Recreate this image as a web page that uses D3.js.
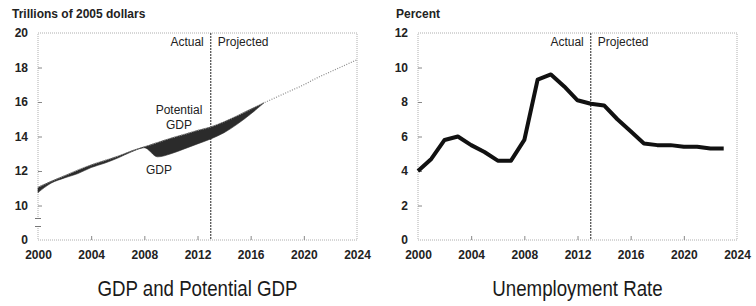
<!DOCTYPE html>
<html>
<head>
<meta charset="utf-8">
<script src="https://cdn.jsdelivr.net/npm/d3@7"></script>
<style>
    body { margin: 0; background: #fff; }
    svg { display: block; }
    .tick text { font-family: "Liberation Sans", Arial, sans-serif; font-size: 12px; font-weight: bold; fill: #222; }
    .tick line { stroke: #888; }
    .unit { font-family: "Liberation Sans", Arial, sans-serif; font-size: 12px; font-weight: bold; fill: #222; }
    .note { font-family: "Liberation Sans", Arial, sans-serif; font-size: 12px; fill: #222; }
    .title { font-family: "Liberation Sans", Arial, sans-serif; font-size: 22px; fill: #1a1a1a; }
</style>
</head>
<body>
<svg id="chart" width="756" height="306"></svg>
<script>
// GDP panel (trillions of 2005 dollars)
const gdpYears = [2000, 2001, 2002, 2003, 2004, 2005, 2006, 2007, 2008, 2009, 2010, 2011, 2012,
    2013, 2014, 2015, 2016, 2017, 2018, 2019, 2020, 2021, 2022, 2023, 2024];
const potentialGdp = [11.05, 11.4, 11.72, 12.05, 12.35, 12.6, 12.85, 13.15, 13.4, 13.65, 13.9, 14.12, 14.35,
    14.55, 14.85, 15.2, 15.58, 15.95, 16.3, 16.65, 17.0, 17.4, 17.75, 18.1, 18.45];
const actualGdp = [10.75, 11.3, 11.6, 11.85, 12.2, 12.45, 12.75, 13.1, 13.35, 12.82, 13.0, 13.28, 13.57,
    13.86, 14.22, 14.72, 15.3, 15.95];
const gdpTicks = [0, 10, 12, 14, 16, 18, 20];

// Unemployment panel (percent)
const rateYears = [2000, 2001, 2002, 2003, 2004, 2005, 2006, 2007, 2008, 2009, 2010, 2011, 2012,
    2013, 2014, 2015, 2016, 2017, 2018, 2019, 2020, 2021, 2022, 2023];
const unemployment = [4.0, 4.7, 5.8, 6.0, 5.5, 5.1, 4.6, 4.6, 5.8, 9.3, 9.6, 8.9, 8.1,
    7.9, 7.8, 7.0, 6.3, 5.6, 5.5, 5.5, 5.4, 5.4, 5.3, 5.3];
const rateTicks = [0, 2, 4, 6, 8, 10, 12];

const yearTicks = [2000, 2004, 2008, 2012, 2016, 2020, 2024];
const splitYear = 2013;

let svg = d3.select("#chart");
let width = 319, height = 207;

function drawPanel(left, opts) {
    let g = svg.append("g")
        .attr("transform", "translate(" + left + ",33)");

    let x = d3.scaleLinear()
        .domain([2000, 2024])
        .range([0, width]);

    // frame
    g.append("rect")
        .attr("width", width)
        .attr("height", height)
        .attr("fill", "none")
        .attr("stroke", "#999")
        .attr("stroke-width", 0.8)
        .attr("stroke-dasharray", "1,1");

    g.append("g")
        .attr("transform", "translate(0," + height + ")")
        .call(d3.axisBottom(x).tickValues(yearTicks).tickFormat(d3.format("d"))
            .tickSizeInner(-4).tickSizeOuter(0).tickPadding(10))
        .call(a => a.select(".domain").remove())
        .call(a => a.selectAll(".tick line").filter(d => d == 2000 || d == 2024).remove());

    g.append("g")
        .call(d3.axisLeft(opts.y).tickValues(opts.ticks)
            .tickSizeInner(-4).tickSizeOuter(0).tickPadding(10))
        .call(a => a.select(".domain").remove())
        .call(a => a.selectAll(".tick line").filter(d => d == opts.ticks[0] || d == opts.ticks[opts.ticks.length - 1]).remove());

    // actual / projected divider
    g.append("line")
        .attr("x1", x(splitYear))
        .attr("x2", x(splitYear))
        .attr("y1", 0)
        .attr("y2", height)
        .attr("stroke", "#222")
        .attr("stroke-width", 1)
        .attr("stroke-dasharray", "2,1");

    g.append("text")
        .attr("class", "note")
        .attr("x", x(splitYear) - 7)
        .attr("y", 13)
        .attr("text-anchor", "end")
        .text("Actual");

    g.append("text")
        .attr("class", "note")
        .attr("x", x(splitYear) + 7)
        .attr("y", 13)
        .text("Projected");

    svg.append("text")
        .attr("class", "unit")
        .attr("x", opts.unitX)
        .attr("y", 18)
        .text(opts.unit);

    // condensed title: squeeze horizontally around its centre
    let cx = left + width / 2;
    svg.append("text")
        .attr("class", "title")
        .attr("transform", "translate(" + cx + ",296) scale(0.85,1)")
        .attr("text-anchor", "middle")
        .text(opts.title);

    return {g: g, x: x};
}

// ---- left: GDP and potential GDP
let yGdp = d3.scaleLinear()
    .domain([0, 10, 20])
    .range([height, height - height / 12 * 2, 0]);

let left = drawPanel(38, {
    y: yGdp, ticks: gdpTicks, unit: "Trillions of 2005 dollars", unitX: 12,
    title: "GDP and Potential GDP"
});

// axis break between 0 and 10
let gl = left.g;
gl.append("rect")
    .attr("x", -2)
    .attr("y", yGdp(10) + 13)
    .attr("width", 4)
    .attr("height", 8)
    .attr("fill", "#fff");
[yGdp(10) + 13, yGdp(10) + 21].forEach(function (yy) {
    gl.append("line")
        .attr("x1", -3)
        .attr("x2", 3)
        .attr("y1", yy)
        .attr("y2", yy)
        .attr("stroke", "#777")
        .attr("stroke-width", 1);
});

let gap = d3.area()
    .curve(d3.curveMonotoneX)
    .x((d, i) => left.x(gdpYears[i]))
    .y0(d => yGdp(d))
    .y1((d, i) => yGdp(potentialGdp[i]));

gl.append("path")
    .datum(actualGdp)
    .attr("d", gap)
    .attr("fill", "#2b2b2b")
    .attr("stroke", "#2b2b2b")
    .attr("stroke-width", 0.6);

gl.append("path")
    .datum(potentialGdp)
    .attr("d", d3.line().curve(d3.curveMonotoneX)
        .x((d, i) => left.x(gdpYears[i]))
        .y(d => yGdp(d)))
    .attr("fill", "none")
    .attr("stroke", "#8a8a8a")
    .attr("stroke-width", 1.2)
    .attr("stroke-dasharray", "1,1.5");

gl.append("text")
    .attr("class", "note")
    .attr("x", 141)
    .attr("y", 81)
    .attr("text-anchor", "middle")
    .text("Potential");

gl.append("text")
    .attr("class", "note")
    .attr("x", 141)
    .attr("y", 96)
    .attr("text-anchor", "middle")
    .text("GDP");

gl.append("text")
    .attr("class", "note")
    .attr("x", 121)
    .attr("y", 141)
    .attr("text-anchor", "middle")
    .text("GDP");

// ---- right: unemployment rate
let yRate = d3.scaleLinear()
    .domain([0, 12])
    .range([height, 0]);

let right = drawPanel(418, {
    y: yRate, ticks: rateTicks, unit: "Percent", unitX: 396,
    title: "Unemployment Rate"
});

right.g.append("path")
    .datum(unemployment)
    .attr("d", d3.line()
        .x((d, i) => right.x(rateYears[i]))
        .y(d => yRate(d)))
    .attr("fill", "none")
    .attr("stroke", "#111")
    .attr("stroke-width", 4)
    .attr("stroke-linejoin", "round");
</script>
</body>
</html>
